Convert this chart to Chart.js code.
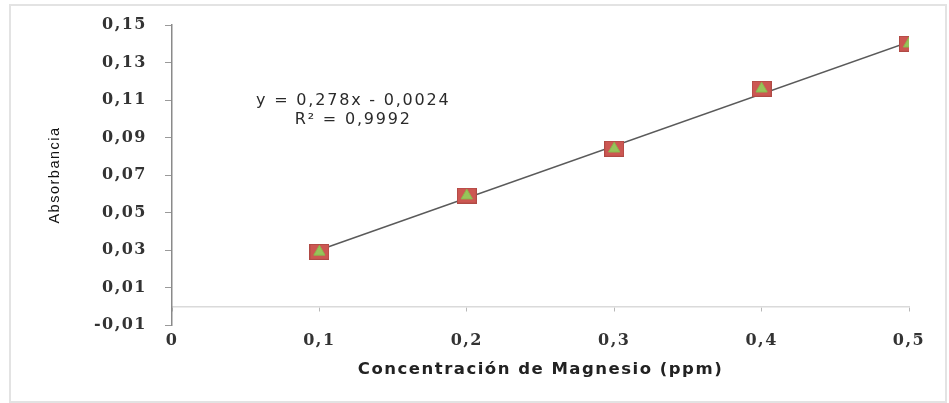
<!DOCTYPE html>
<html>
<head>
<meta charset="utf-8">
<script src="https://cdn.jsdelivr.net/npm/chart.js@4"></script>
<style>
  html, body { margin: 0; padding: 0; background: #ffffff; }
  #wrap { position: relative; width: 949px; height: 403px; }
  #frame { position: absolute; left: 9px; top: 4px; width: 934px; height: 395px; border: 2px solid #e3e3e3; box-sizing: content-box; }
  canvas { position: absolute; left: 0; top: 0; }
</style>
</head>
<body>
<div id="wrap">
  <div id="frame"></div>
  <canvas id="c" width="949" height="403"></canvas>
</div>
<script>
// ---- data ----
const concentrations = [0.1, 0.2, 0.3, 0.4, 0.5];          // ppm
const absorbances    = [0.029, 0.059, 0.084, 0.116, 0.140];
const trendX = [0.1, 0.5];
const trendY = [0.030, 0.141];
const xTickValues = [0, 0.1, 0.2, 0.3, 0.4, 0.5];
const yTickValues = [-0.01, 0.01, 0.03, 0.05, 0.07, 0.09, 0.11, 0.13, 0.15];
const equationLines = ['y = 0,278x - 0,0024', 'R\u00B2 = 0,9992'];
const xTitle = 'Concentración de Magnesio (ppm)';
const yTitle = 'Absorbancia';

function fmt(v) {
  if (Math.abs(v) < 1e-9) return '0';
  const s = (Math.round(v * 100) / 100).toString();
  return s.replace('.', ',');
}

// marker image: red rectangle (first series)
function makeRectMarker() {
  const c = document.createElement('canvas');
  c.width = 20; c.height = 16;
  const g = c.getContext('2d');
  g.fillStyle = '#cc5752';
  g.fillRect(0, 0, 20, 16);
  g.strokeStyle = '#b04a45';
  g.lineWidth = 1;
  g.strokeRect(0.5, 0.5, 19, 15);
  return c;
}
const rectMarker = makeRectMarker();

const pts = concentrations.map((x, i) => ({x: x, y: absorbances[i]}));
const trend = trendX.map((x, i) => ({x: x, y: trendY[i]}));

const spacingPlugin = {
  id: 'spacing',
  beforeUpdate(chart) { chart.ctx.letterSpacing = '1.5px'; },
  beforeDraw(chart) { chart.ctx.letterSpacing = '1.5px'; }
};

const equationPlugin = {
  id: 'equation',
  afterDatasetsDraw(chart, args, opts) {
    const {ctx, scales} = chart;
    const x = scales.x.getPixelForValue(opts.xValue);
    ctx.save();
    ctx.letterSpacing = '1.8px';
    ctx.font = '16px "DejaVu Sans", sans-serif';
    ctx.fillStyle = '#2a2a2a';
    ctx.textAlign = 'center';
    ctx.textBaseline = 'middle';
    opts.lines.forEach((t, i) => {
      ctx.fillText(t, x, scales.y.getPixelForValue(opts.yValues[i]));
    });
    ctx.restore();
  }
};

const tickFont = {family: '"DejaVu Serif", serif', size: 16, weight: 'bold'};

new Chart(document.getElementById('c'), {
  type: 'scatter',
  data: {
    datasets: [
      {
        type: 'line',
        label: 'trend',
        data: trend,
        borderColor: '#5a5a5a',
        borderWidth: 1.5,
        pointRadius: 0,
        fill: false,
        order: 3
      },
      {
        label: 'series1',
        data: pts,
        pointStyle: rectMarker,
        pointRadius: 10,
        order: 2
      },
      {
        label: 'series2',
        data: pts,
        pointStyle: 'triangle',
        pointRadius: 6.5,
        backgroundColor: '#97c45a',
        borderColor: '#8aba4e',
        borderWidth: 1,
        order: 1
      }
    ]
  },
  options: {
    responsive: false,
    animation: false,
    events: [],
    layout: { padding: { left: 20, right: 40, top: 25, bottom: 0 } },
    plugins: {
      legend: { display: false },
      tooltip: { enabled: false },
      equation: { xValue: 0.123, yValues: [0.1095, 0.0995], lines: equationLines }
    },
    scales: {
      x: {
        type: 'linear',
        position: 'bottom',
        min: 0, max: 0.5,
        afterBuildTicks(s) { s.ticks = xTickValues.map(v => ({value: v})); },
        afterFit(s) { s.height = 78; s.paddingLeft = 0; s.paddingRight = 0; },
        border: { display: false },
        grid: { display: false, drawTicks: false },
        ticks: { padding: 6, color: '#333', font: tickFont, callback: v => fmt(v), maxRotation: 0 },
        title: { display: true, text: xTitle, color: '#222',
                 font: {family: '"DejaVu Sans", sans-serif', size: 16.5, weight: 'bold'},
                 padding: {top: 4, bottom: 23} }
      },
      x0: {
        type: 'linear',
        axis: 'x',
        position: { y: 0 },
        min: 0, max: 0.5,
        afterBuildTicks(s) { s.ticks = xTickValues.map(v => ({value: v})); },
        border: { display: true, color: '#dadada', width: 1.5 },
        grid: { drawOnChartArea: false, drawTicks: true, tickLength: 4, tickColor: '#b8b8b8' },
        ticks: { display: false }
      },
      y: {
        type: 'linear',
        position: 'left',
        min: -0.01, max: 0.15,
        afterBuildTicks(s) { s.ticks = yTickValues.map(v => ({value: v})); },
        afterFit(s) { s.width = 152; s.paddingTop = 0; s.paddingBottom = 0; },
        border: { display: true, color: '#8a8a8a', width: 1.5 },
        grid: { drawOnChartArea: false, drawTicks: true, tickLength: 7, tickColor: '#9a9a9a' },
        ticks: { padding: 18, color: '#333', font: tickFont, callback: v => fmt(v) },
        title: { display: true, text: yTitle, color: '#111',
                 font: {family: '"Liberation Sans Narrow", "Liberation Sans", sans-serif', size: 14.5},
                 padding: {top: 26, bottom: 0} }
      }
    }
  },
  plugins: [spacingPlugin, equationPlugin]
});
</script>
</body>
</html>
